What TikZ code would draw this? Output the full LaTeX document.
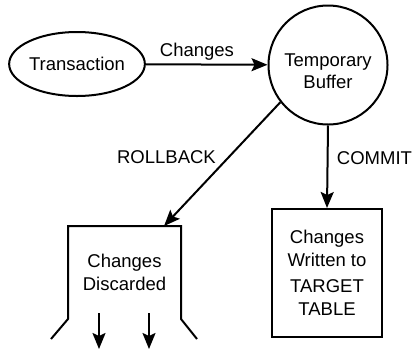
\documentclass[tikz,border=0pt]{standalone}
\usepackage{fontspec}
\setmainfont{Liberation Sans}
\usetikzlibrary{arrows.meta}
\usetikzlibrary{shapes.geometric}
\usetikzlibrary{calc,positioning}

\begin{document}
\begin{tikzpicture}[x=1pt, y=-1pt, >={Stealth[length=16pt,width=13pt,inset=3pt]}, line width=2pt,
    every node/.style={font=\fontsize{18.5}{22.5}\selectfont, align=center},
    transnode/.style={draw, ellipse, minimum width=132pt, minimum height=64pt, inner sep=0pt},
    buffernode/.style={draw, circle, minimum size=119pt, inner sep=0pt},
    tablebox/.style={draw, rectangle, minimum width=110pt, minimum height=128pt, inner sep=0pt},
    bucketbox/.style={rectangle, minimum width=111pt, minimum height=91pt, inner sep=0pt}]

    \useasboundingbox (0,0) rectangle (414,349);

    \node[transnode] (trans) at (77,64) {Transaction};
    \node[buffernode, label={[yshift=-6pt]center:{Temporary\\Buffer}}] (buffer) at (328,65) {};
    \node[tablebox] (target) at (327,273) {Changes\\Written to\\[4pt]TARGET\\TABLE};
    \node[bucketbox] (discard) at (124.5,272.5) {Changes\\Discarded};

    % open bucket round the discarded changes
    \draw ($(discard.south west)+(-17,20)$) -- (discard.south west) -- (discard.north west)
        -- (discard.north east) -- (discard.south east) -- ++(16,20);

    \draw[->] (trans) -- node[above, pos=0.42] {Changes} (buffer);

    \coordinate (drop) at ($(discard.north west)!0.85!(discard.north east)$);
    \draw[->] (buffer.218) -- node[pos=0.44, left=9pt] {ROLLBACK} (drop);
    \draw[->] (buffer.south) -- node[pos=0.39, right=5pt] {COMMIT} (target.north);

    \foreach \dx [count=\i] in {-25.5,24.5} {
        \coordinate (outtop\i) at ($(discard.south)+(\dx,-6)$);
        \coordinate (outend\i) at ($(outtop\i)+(0,36)$);
        \draw[->] (outtop\i) -- (outend\i);
    }

\end{tikzpicture}
\end{document}
